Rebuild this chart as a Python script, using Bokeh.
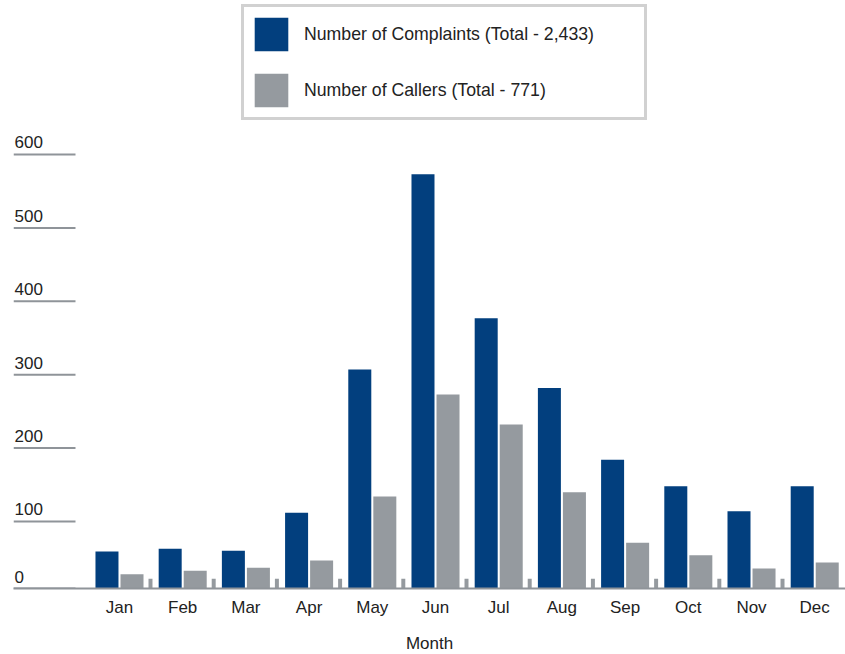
from bokeh.plotting import figure
from bokeh.models import ColumnDataSource, Range1d, FixedTicker, Legend, LegendItem
from bokeh.transform import dodge
from bokeh.core.properties import value
from bokeh.embed import file_html
from bokeh.resources import INLINE

# ---- data -------------------------------------------------------------
months = ["Jan", "Feb", "Mar", "Apr", "May", "Jun",
          "Jul", "Aug", "Sep", "Oct", "Nov", "Dec"]
complaints = [59, 63, 60, 112, 307, 573, 377, 282, 184, 148, 114, 148]
callers = [28, 33, 37, 47, 134, 273, 232, 140, 71, 54, 36, 44]
y_ticks = [0, 100, 200, 300, 400, 500, 600]
complaints_label = "Number of Complaints (Total - 2,433)"
callers_label = "Number of Callers (Total - 771)"
x_title = "Month"

# ---- style ------------------------------------------------------------
BLUE = "#023f7e"
GREY = "#959a9f"
RULE = "#8f9499"
TEXT = "#222222"
FONT = "Liberation Sans"
FS = "17px"

Y_LO, Y_HI = 8.7, 809.8          # value range shown in the frame
X_LO, X_HI = -1.677, 11.487      # month index range shown in the frame
BAR_W = 0.364
BAR_OFF = 0.198
DIV_OFF, DIV_W, DIV_H = 0.4905, 0.063, 22
TICK_X0, TICK_X1, LABEL_X = -1.677, -0.696, -1.661

idx = list(range(len(months)))
src = ColumnDataSource(dict(x=idx, month=months, complaints=complaints,
                            callers=callers))
# dividers sit in the gaps between consecutive months
div_src = ColumnDataSource(dict(x=idx[:-1], top=[DIV_H] * (len(idx) - 1)))

p = figure(frame_width=832, frame_height=588,
           x_range=Range1d(X_LO, X_HI), y_range=Range1d(Y_LO, Y_HI),
           y_axis_location=None, toolbar_location=None,
           output_backend="svg", min_border_left=13, min_border_right=0,
           min_border_top=0, min_border_bottom=20)
p.outline_line_color = None
p.xgrid.visible = False
p.ygrid.visible = False
p.background_fill_color = "white"
p.border_fill_color = "white"

r_blue = p.vbar(x=dodge("x", -BAR_OFF, range=p.x_range), top="complaints",
                bottom=0, width=BAR_W, source=src,
                fill_color=BLUE, line_color=None)
r_grey = p.vbar(x=dodge("x", BAR_OFF, range=p.x_range), top="callers",
                bottom=0, width=BAR_W, source=src,
                fill_color=GREY, line_color=None)
p.vbar(x=dodge("x", DIV_OFF, range=p.x_range), top="top", bottom=0,
       width=DIV_W, source=div_src, fill_color=GREY, line_color=None)

# value scale: short rules with the numbers sitting on them
tick_y = [max(v, Y_LO) for v in y_ticks]
tick_src = ColumnDataSource(dict(y=tick_y, label=[str(v) for v in y_ticks]))
p.segment(x0=TICK_X0, x1=TICK_X1, y0="y", y1="y", source=tick_src,
          line_color=RULE, line_width=2)
p.text(x=LABEL_X, y="y", text="label", source=tick_src, y_offset=-6,
       text_baseline="bottom", text_align="left",
       text_font=value(FONT), text_font_size=FS, text_color=TEXT)

ax = p.xaxis[0]
ax.ticker = FixedTicker(ticks=idx)
ax.major_label_overrides = {i: m for i, m in zip(idx, months)}
ax.axis_line_color = RULE
ax.axis_line_width = 2
ax.major_tick_line_color = None
ax.minor_tick_line_color = None
ax.major_label_standoff = 3
ax.major_label_text_font = FONT
ax.major_label_text_font_size = FS
ax.major_label_text_color = TEXT
ax.axis_label = x_title
ax.axis_label_standoff = 14
ax.axis_label_text_font = FONT
ax.axis_label_text_font_size = FS
ax.axis_label_text_font_style = "normal"
ax.axis_label_text_color = TEXT

legend = Legend(items=[LegendItem(label=complaints_label, renderers=[r_blue]),
                       LegendItem(label=callers_label, renderers=[r_grey])],
                location=(228, 468), margin=0, padding=6, spacing=14,
                glyph_width=42, glyph_height=42, label_standoff=12,
                label_width=334, border_line_width=3,
                border_line_color="#a3a3a3", background_fill_alpha=1,
                label_text_font=FONT, label_text_font_size="17.7px",
                label_text_color=TEXT)
p.add_layout(legend)

open("out.html", "w").write(file_html(p, INLINE))
